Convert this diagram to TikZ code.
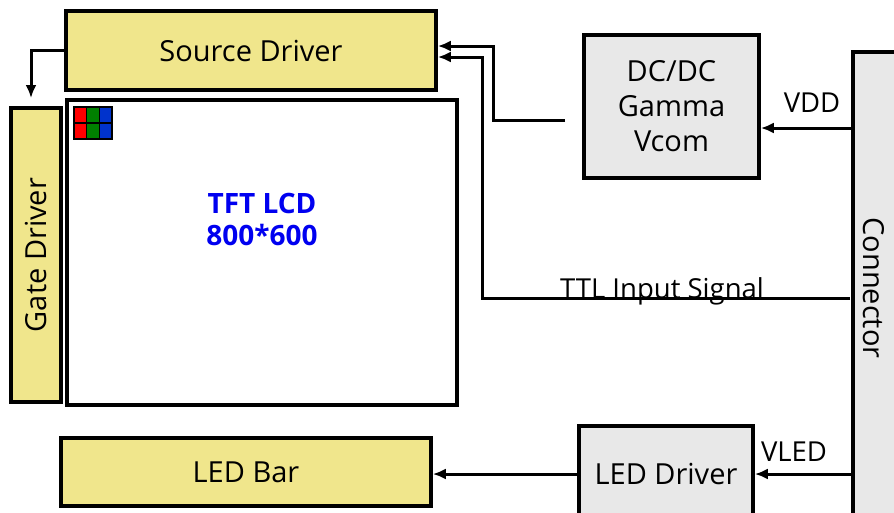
\documentclass[tikz,border=0pt]{standalone}
\usepackage{fontspec}
\setmainfont{Open Sans}
\usepackage{xcolor}
\usetikzlibrary{arrows.meta,positioning}

\definecolor{khaki}{HTML}{F0E68C}
\definecolor{panelgrey}{HTML}{E8E8E8}
\definecolor{lcdblue}{HTML}{0000F0}
\definecolor{pxred}{HTML}{FF0000}
\definecolor{pxgreen}{HTML}{008000}
\definecolor{pxblue}{HTML}{0033CC}

\begin{document}
\begin{tikzpicture}[x=1pt,y=-1pt,>={Latex[length=13pt,width=11pt]},
  block/.style={draw,line width=3.6pt,inner sep=0pt,font=\fontsize{29}{35}\selectfont,align=center},
  drv/.style={block,fill=khaki},
  unit/.style={block,fill=panelgrey},
  wire/.style={line width=3pt},
  tag/.style={font=\fontsize{27.5}{30}\selectfont,inner sep=0pt}]
  \clip (0,0) rectangle (894,512);

  % the two drivers and the panel
  \node [drv,minimum width=370pt,minimum height=79pt] (source) at (251,50.5) {Source Driver};
  \node [drv,minimum width=50pt,minimum height=294pt] (gate) at (36,255) {};
  \node [font=\fontsize{29}{35}\selectfont,rotate=90] (gatelbl) at (gate) {Gate Driver};
  \node [block,fill=white,minimum width=390pt,minimum height=305pt] (lcd) at (262,252.5) {};
  \node [font=\bfseries\fontsize{28}{32}\selectfont,text=lcdblue,align=center] (lcdlbl) at (262,219) {TFT LCD\\800*600};

  % one pixel: red, green and blue cells
  \foreach \c [count=\i from 0] in {pxred,pxgreen,pxblue} {
    \fill [\c] (74+12.7*\i,107) rectangle +(12.7,32);
    \draw [line width=1.5pt] (74+12.7*\i,107) rectangle +(12.7,16) (74+12.7*\i,123) rectangle +(12.7,16);
  }

  % power and connector side
  \node [unit,minimum width=175pt,minimum height=143pt] (dcdc) at (671.5,106.5) {DC/DC\\Gamma\\Vcom};
  \node [unit,minimum width=100pt,minimum height=520pt] (conn) at (903,312) {};
  \node [font=\fontsize{29}{35}\selectfont,rotate=-90] (connlbl) at (874,288) {Connector};
  \node [unit,minimum width=174pt,minimum height=96pt] (leddrv) at (666,474) {LED Driver};
  \node [drv,minimum width=370pt,minimum height=68pt] (ledbar) at (246,472) {LED Bar};

  % free ends of the wires
  \coordinate (gatein) at (31,98);
  \coordinate (dcout) at (565,120);
  \coordinate (dcbend) at (493,46);
  \coordinate (ttlout) at (850,298);
  \coordinate (ttlbend) at (482,57);
  \coordinate (vddout) at (conn.west |- 0,128);

  \draw [wire,->] (source.west) -| (gatein);
  \draw [wire,->] (dcout) -| (dcbend) -- (dcbend -| source.east);
  \draw [wire,->] (ttlout) -| (ttlbend) -- (ttlbend -| source.east);
  \draw [wire,->] (vddout) -- (vddout -| dcdc.east);
  \draw [wire,->] (conn.west |- leddrv.east) -- (leddrv.east);
  \draw [wire,->] (leddrv.west) -- (leddrv.west -| ledbar.east);

  % signal names
  \node [tag,anchor=base] (ttllbl) at (662,298) {TTL Input Signal};
  \node [tag] (vddlbl) at (812,103) {VDD};
  \node [tag] (vledlbl) at (794,452) {VLED};
\end{tikzpicture}
\end{document}
